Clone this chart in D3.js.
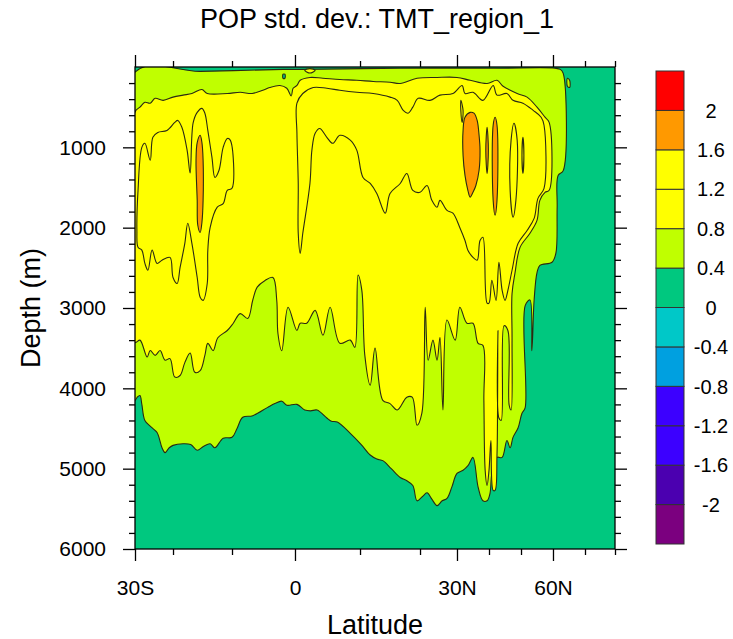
<!DOCTYPE html>
<html>
<head>
<meta charset="utf-8">
<script src="https://cdn.jsdelivr.net/npm/d3@7"></script>
<style>
  body { margin: 0; background: #fff; }
  text { font-family: "Liberation Sans", Arial, Helvetica, sans-serif; }
</style>
</head>
<body>
<svg id="chart" width="733" height="639"></svg>
<script>
// Contour levels and the fill colour of each interval (lowest first)
var levels = [-2, -1.6, -1.2, -0.8, -0.4, 0, 0.4, 0.8, 1.2, 1.6, 2];
var levelColours = ['#7b007f', '#4b00b0', '#3c00ff', '#3c00ff', '#00a0e0', '#00c8c8',
                    '#00c87f', '#c0ff00', '#ffff00', '#ffff00', '#ff9900', '#ff0000'];

// Latitude axis: the model grid is not uniform in latitude
var latKnots = [-30, -20, -10, 0, 10, 20, 30, 40, 50, 60, 70, 80];
var latKnotFrac = [0, 0.0792, 0.2021, 0.3333, 0.4688, 0.5938, 0.6708, 0.7375, 0.8042, 0.8708, 0.9375, 1];
var latMajor = [-30, 0, 30, 60];
var latMajorLabels = ["30S", "0", "30N", "60N"];
var latMinor = [-20, -10, 10, 20, 40, 50, 70, 80];

// Depth axis (m)
var depthMajor = [1000, 2000, 3000, 4000, 5000, 6000];
var depthMinor = [200, 400, 600, 800, 1200, 1400, 1600, 1800, 2200, 2400, 2600, 2800,
                  3200, 3400, 3600, 3800, 4200, 4400, 4600, 4800, 5200, 5400, 5600, 5800];

// std. dev. outside every drawn contour
var backgroundValue = 0.2;

// Closed contours as [latitude, depth] traced from the section
var band04 = [[-30,65],[-15.4,55],[-1.9,30],[0.8,30],[16.7,15],[43.4,15],[60.6,15],[62.3,30],[63.2,80],
  [63.2,1290],[61.6,1350],[61.3,1750],[60.9,2320],[59.7,2430],[55.9,2470],[55,2560],[54.1,2900],
  [53.4,3530],[52.8,2900],[51.3,2970],[51.3,4240],[50.3,4310],[49.1,4490],[47.5,4610],[46.6,4740],
  [45.6,4650],[44.1,4860],[42.5,4860],[40.9,5060],[40.3,5310],[39.4,5400],[38.1,5400],[36.6,5230],
  [35,4860],[33.5,4960],[31.9,5020],[30,5060],[28.6,5230],[27.3,5370],[26,5400],[24.6,5460],
  [23.2,5380],[21.9,5300],[20.6,5350],[19.5,5400],[18.8,5210],[17.8,5150],[16.7,5110],[15.2,5000],
  [13.8,4900],[12.8,4880],[11.7,4830],[10.2,4700],[8.5,4560],[6.5,4420],[5.6,4410],[4.9,4370],
  [3.4,4270],[2.4,4280],[1.5,4270],[0.3,4200],[-1.3,4210],[-2.1,4160],[-3.2,4190],[-4.4,4240],
  [-6.7,4340],[-8.3,4360],[-9.2,4500],[-10,4610],[-11.5,4620],[-12.9,4740],[-13.7,4690],[-14.8,4720],
  [-15.9,4770],[-17,4700],[-18.3,4690],[-20,4710],[-21,4740],[-22.1,4800],[-22.9,4740],[-24.2,4550],
  [-25.8,4480],[-27.4,4400],[-28.2,4200],[-28.7,4090],[-29.4,4110],[-30,4150]];

var band08 = [[-30,560],[-28.7,500],[-27.4,440],[-26,450],[-24.7,390],[-22.6,415],[-20,375],[-18.3,350],
  [-16.8,330],[-15.1,280],[-14.2,330],[-10.8,330],[-8.7,315],[-6.8,330],[-5.1,290],[-4,255],[-2.4,230],
  [-1.3,265],[-0.6,360],[-0.3,265],[0.3,230],[0.8,165],[2.3,130],[4.3,140],[6.9,155],[9.5,165],
  [12.2,180],[15,190],[16.7,205],[19.5,140],[24.6,130],[30,130],[34.1,165],[39.4,205],[42.5,165],
  [44.4,240],[48.8,330],[51.9,375],[55,500],[57.5,625],[58.8,690],[58.8,1535],[57.5,1560],[55.9,1660],
  [55,1910],[52.8,2070],[49.7,2245],[48.1,2570],[47.2,2820],[47.2,3400],[46.9,4270],[46.3,4210],
  [45.9,3280],[44.7,3220],[43.8,4400],[43.1,4370],[42.8,3280],[42.5,4830],[41.9,5270],[41.3,5270],
  [40.6,4650],[40,5020],[39.4,5210],[38.8,5020],[38.4,4150],[38.1,3465],[36.6,3440],[35,3190],
  [33.1,3190],[30.9,2990],[29.5,3400],[27.3,3150],[26.2,4270],[25.4,3365],[24.6,3650],[23.5,3400],
  [22.2,3650],[21.4,2990],[20.5,4310],[19.5,4460],[18.7,4110],[17.8,4110],[16.2,4270],[15,4190],
  [13.8,4150],[12.5,3500],[11.7,3960],[10.8,3590],[10.3,2780],[9.7,2590],[9.2,3490],[8.5,3400],
  [6.9,3440],[5.4,2990],[4.3,3340],[3.1,3030],[1.8,3190],[0.8,3190],[0.3,3280],[-1.1,2990],
  [-2.1,3530],[-2.7,3320],[-2.9,2900],[-3.5,2620],[-4.8,2660],[-6,2740],[-6.7,2900],[-7.5,3130],
  [-8.7,3070],[-9.8,3190],[-10.8,3280],[-12.4,3370],[-13.2,3530],[-14.1,3440],[-14.6,3590],
  [-15.4,3780],[-16.3,3800],[-17.1,3560],[-18,3680],[-18.8,3840],[-19.7,3860],[-20.8,3630],
  [-22.1,3650],[-23.4,3530],[-24.7,3590],[-26,3530],[-26.8,3610],[-28.7,3400],[-30,3430]];

var loopSouth12 = [[-29.2,1535],[-28.2,1000],[-27.4,950],[-26,1160],[-25.3,875],[-24,815],[-21.6,790],
  [-19.7,690],[-19.2,665],[-18.5,750],[-17.6,1040],[-17.1,1320],[-16.6,700],[-15.9,565],[-15.1,515],
  [-14.6,575],[-14.1,790],[-13.4,1125],[-12.9,1375],[-12.2,1285],[-11.5,1000],[-10.8,890],[-10.3,910],
  [-10,1510],[-10.8,1535],[-11.5,1700],[-12.5,1745],[-13.7,1995],[-14.1,2280],[-14.2,2695],[-14.9,2905],
  [-15.4,2865],[-15.9,2620],[-16.8,2195],[-17.5,1945],[-18,2195],[-18.8,2495],[-19.3,2695],[-20,2620],
  [-20.8,2370],[-22.9,2405],[-24.2,2445],[-25.5,2280],[-26.6,2530],[-27.4,2445],[-28.2,2280],
  [-29.2,2245],[-29.5,2035]];

var bandNorth12 = [[0.3,450],[1.2,330],[2.8,255],[4.9,265],[6.9,290],[9.5,315],[12.2,330],[15,375],
  [16.2,415],[17.2,540],[18,575],[18.8,500],[19.7,390],[22.7,415],[25.4,350],[28.9,330],[31.6,230],
  [32.5,330],[35,315],[38.1,415],[41.3,230],[42.5,350],[45.6,330],[47.5,415],[50.6,450],[53.8,540],
  [56.3,625],[57.2,725],[57.2,1510],[55.3,1635],[54.1,1885],[51.9,2035],[49.1,2195],[47.2,2530],
  [45.9,2780],[45,2905],[44.1,2780],[43.1,2430],[42.2,2905],[40.9,2655],[40,2940],[39.4,2940],
  [38.1,2120],[37.2,2160],[36.3,2405],[35,2370],[33.4,2280],[32.5,2160],[30.9,2000],[28.9,1820],
  [27.3,1785],[25.4,1660],[24.6,1745],[23.2,1660],[21.9,1475],[20,1560],[18.8,1535],[17.8,1325],
  [16.7,1450],[15,1575],[14.2,1820],[12.8,1575],[11.7,1450],[10.5,1375],[9.5,1035],[8.5,910],
  [6.9,850],[5.8,950],[4.9,875],[3.8,765],[3.1,825],[2.6,1035],[2.3,1450],[1.2,2070],[0.8,2320],
  [0.5,2070],[0.5,1450],[0.3,825]];

// small closed contours
var streak31N = [[31.2,415],[31.9,540],[31.6,690],[31.2,540]];
var streak48N = [[47.8,700],[48.8,910],[48.4,1660],[47.5,1870],[46.6,1535],[46.9,910]];
var streak51N = [[50.6,875],[50.9,1100],[50.6,1325],[50.3,1100]];
var topLoop08 = [[1.5,40],[2.3,20],[3.1,40],[2.3,75]];
var topDot0 = [[-1.9,90],[-1.6,90],[-1.6,140],[-1.9,140]];
var edgeBlob04 = [[64.5,140],[65.2,165],[65.2,255],[64.5,240]];

// cores above 1.6
var core16South = [[-15.4,850],[-15.1,940],[-14.9,1160],[-14.9,1660],[-15.1,1935],[-15.4,2060],
  [-15.8,1970],[-15.9,1660],[-16.1,1160],[-15.9,940]];
var core16North = [[34.1,565],[35.3,575],[36.3,665],[36.9,850],[37.2,1035],[36.9,1285],[35.9,1475],
  [35,1560],[34.1,1620],[33.4,1535],[32.5,1350],[31.9,1100],[31.9,790],[32.5,625]];
var core16Stripe = [[41.9,625],[42.5,725],[42.5,1660],[41.9,1845],[41.3,1660],[41.3,725]];
var core16Thin = [[39.4,750],[39.8,1035],[39.4,1325],[39.0,1035]];

var contours = [
  {value: 0.4, pts: band04},
  {value: 0.8, pts: band08},
  {value: 1.2, pts: loopSouth12},
  {value: 1.2, pts: bandNorth12},
  {value: 1.2, pts: streak31N},
  {value: 1.2, pts: streak48N},
  {value: 1.2, pts: streak51N},
  {value: 0.8, pts: topLoop08},
  {value: 0, pts: topDot0},
  {value: 0.4, pts: edgeBlob04},
  {value: 1.6, pts: core16South},
  {value: 1.6, pts: core16North},
  {value: 1.6, pts: core16Stripe},
  {value: 1.6, pts: core16Thin}
];

var plot = {left: 135, top: 67, width: 480, height: 482};
var lineColour = '#2a2a12';
var fontMain = 27, fontTick = 21, fontBar = 20;

var svg = d3.select("#chart");

var x = d3.scaleLinear()
  .domain(latKnots)
  .range(latKnotFrac.map(function (f) { return plot.left + f * plot.width; }));
var y = d3.scaleLinear().domain([0, 6000]).range([plot.top, plot.top + plot.height]);
var fill = d3.scaleThreshold().domain(levels).range(levelColours);

svg.append("clipPath").attr("id", "plotClip")
  .append("rect")
  .attr("x", plot.left).attr("y", plot.top)
  .attr("width", plot.width).attr("height", plot.height);

var field = svg.append("g").attr("clip-path", "url(#plotClip)");

field.append("rect")
  .attr("x", plot.left).attr("y", plot.top)
  .attr("width", plot.width).attr("height", plot.height)
  .attr("fill", fill(backgroundValue));

var contourLine = d3.line()
  .x(function (d) { return x(d[0]); })
  .y(function (d) { return y(d[1]); })
  .curve(d3.curveCatmullRomClosed.alpha(0.5));

field.selectAll("path.contour")
  .data(contours)
  .enter().append("path")
  .attr("class", "contour")
  .attr("d", function (c) { return contourLine(c.pts); })
  .attr("fill", function (c) { return fill(c.value); })
  .attr("stroke", lineColour)
  .attr("stroke-width", 1.1)
  .attr("stroke-linejoin", "round");

// frame
svg.append("rect")
  .attr("x", plot.left).attr("y", plot.top)
  .attr("width", plot.width).attr("height", plot.height)
  .attr("fill", "none").attr("stroke", "#000").attr("stroke-width", 1.3);

function tidy(sel, size) {
  sel.select(".domain").remove();
  sel.selectAll(".tick line").attr("stroke", "#000").attr("stroke-width", 1.3);
  sel.selectAll(".tick text")
    .attr("fill", "#000")
    .attr("font-family", '"Liberation Sans", Arial, Helvetica, sans-serif')
    .attr("font-size", size);
}

var bottom = plot.top + plot.height, right = plot.left + plot.width;

// bottom
svg.append("g").attr("transform", "translate(0," + bottom + ")")
  .call(d3.axisBottom(x).tickValues(latMajor).tickSize(12).tickPadding(19).tickSizeOuter(0)
    .tickFormat(function (d, i) { return latMajorLabels[i]; }))
  .call(tidy, fontTick);
svg.append("g").attr("transform", "translate(0," + bottom + ")")
  .call(d3.axisBottom(x).tickValues(latMinor).tickSize(6).tickFormat("").tickSizeOuter(0))
  .call(tidy, fontTick);
// top
svg.append("g").attr("transform", "translate(0," + plot.top + ")")
  .call(d3.axisTop(x).tickValues(latMajor).tickSize(12).tickFormat("").tickSizeOuter(0))
  .call(tidy, fontTick);
svg.append("g").attr("transform", "translate(0," + plot.top + ")")
  .call(d3.axisTop(x).tickValues(latMinor).tickSize(6).tickFormat("").tickSizeOuter(0))
  .call(tidy, fontTick);
// left
svg.append("g").attr("transform", "translate(" + plot.left + ",0)")
  .call(d3.axisLeft(y).tickValues(depthMajor).tickSize(12).tickPadding(17).tickSizeOuter(0)
    .tickFormat(d3.format("d")))
  .call(tidy, fontTick);
svg.append("g").attr("transform", "translate(" + plot.left + ",0)")
  .call(d3.axisLeft(y).tickValues(depthMinor).tickSize(6).tickFormat("").tickSizeOuter(0))
  .call(tidy, fontTick);
// right
svg.append("g").attr("transform", "translate(" + right + ",0)")
  .call(d3.axisRight(y).tickValues(depthMajor).tickSize(12).tickFormat("").tickSizeOuter(0))
  .call(tidy, fontTick);
svg.append("g").attr("transform", "translate(" + right + ",0)")
  .call(d3.axisRight(y).tickValues(depthMinor).tickSize(6).tickFormat("").tickSizeOuter(0))
  .call(tidy, fontTick);

// titles
svg.append("text")
  .attr("x", 377).attr("y", 28)
  .attr("text-anchor", "middle")
  .attr("font-size", fontMain)
  .text("POP std. dev.: TMT_region_1");
svg.append("text")
  .attr("x", plot.left + plot.width / 2).attr("y", 634)
  .attr("text-anchor", "middle")
  .attr("font-size", fontMain)
  .text("Latitude");
svg.append("text")
  .attr("transform", "translate(40," + (plot.top + plot.height / 2) + ") rotate(-90)")
  .attr("text-anchor", "middle")
  .attr("font-size", fontMain)
  .text("Depth (m)");

// colour bar
var bar = {left: 656, width: 28, top: 71, bottom: 544};
var barY = d3.scaleLinear().domain([0, levelColours.length]).range([bar.bottom, bar.top]);
var barG = svg.append("g");
barG.selectAll("rect")
  .data(levelColours)
  .enter().append("rect")
  .attr("x", bar.left)
  .attr("y", function (c, i) { return barY(i + 1); })
  .attr("width", bar.width)
  .attr("height", function (c, i) { return barY(i) - barY(i + 1); })
  .attr("fill", function (c) { return c; })
  .attr("stroke", "#333")
  .attr("stroke-width", 1);
barG.selectAll("text")
  .data(levels)
  .enter().append("text")
  .attr("x", 711)
  .attr("y", function (d, i) { return barY(i + 1); })
  .attr("dy", "0.36em")
  .attr("text-anchor", "middle")
  .attr("font-size", fontBar)
  .text(function (d) { return String(d); });
</script>
</body>
</html>
